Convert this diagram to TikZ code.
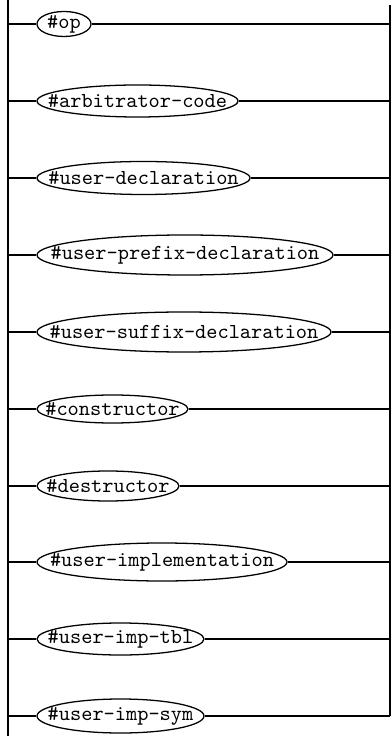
\documentclass[tikz,border=0pt]{standalone}
\usepackage{tikz}
\newcommand\railrow[5]{%
  \node[lbl, minimum width=#3*0.4688pt, minimum height=#4*0.4688pt] (#1) at ({37+#3/2},#2) {\##5};
  \draw (#1.center) ellipse [x radius=#3*0.2344pt, y radius=#4*0.2344pt];
  \coordinate (#1l) at (8,#2);
  \coordinate (#1r) at (390,#2);
  \draw (#1l) -- (#1.west);
  \draw (#1.east) -- (#1r);
}
\begin{document}
\begin{tikzpicture}[x=0.4688pt,y=-0.4688pt,line width=0.6pt,
  lbl/.style={font=\ttfamily, inner sep=0pt, shape=rectangle}]
\useasboundingbox (0,0) rectangle (391,736);
\coordinate (lt) at (8,0);
\coordinate (lb) at (8,736);
\coordinate (rt) at (390,5);
\coordinate (rb) at (390,716);
\draw (lt) -- (lb);
\draw (rt) -- (rb);
\railrow{a}{24}{54}{25}{op}
\railrow{b}{101}{201}{32}{arbitrator-code}
\railrow{c}{178}{213}{33}{user-declaration}
\railrow{d}{255}{296}{40}{user-prefix-declaration}
\railrow{e}{332}{294}{40}{user-suffix-declaration}
\railrow{f}{409}{151}{28}{constructor}
\railrow{g}{486}{142}{30}{destructor}
\railrow{h}{562}{250}{38}{user-implementation}
\railrow{i}{639}{167}{32}{user-imp-tbl}
\railrow{j}{716}{167}{34}{user-imp-sym}
\end{tikzpicture}
\end{document}
